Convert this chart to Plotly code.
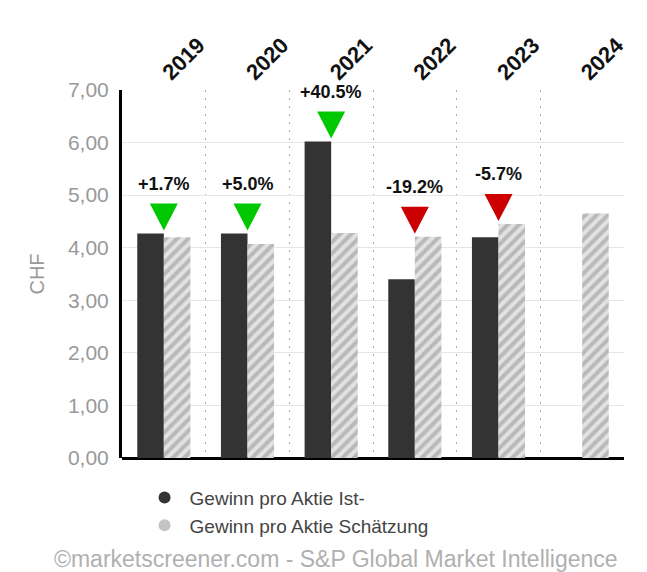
import plotly.graph_objects as go

years = ["2019", "2020", "2021", "2022", "2023", "2024"]
eps_actual = [4.27, 4.27, 6.02, 3.40, 4.20, None]
eps_estimate = [4.20, 4.07, 4.28, 4.21, 4.45, 4.65]
surprise_labels = ["+1.7%", "+5.0%", "+40.5%", "-19.2%", "-5.7%", None]
tick_values = [0, 1, 2, 3, 4, 5, 6, 7]
series_names = ["Gewinn pro Aktie Ist-", "Gewinn pro Aktie Schätzung"]
footer = "©marketscreener.com - S&P Global Market Intelligence"

FONT = "Liberation Sans, Arial, sans-serif"

fig = go.Figure()
fig.add_trace(go.Bar(x=years, y=eps_actual, name=series_names[0],
                     marker=dict(color="#333333", line=dict(width=0)),
                     showlegend=False))
fig.add_trace(go.Bar(x=years, y=eps_estimate, name=series_names[1],
                     marker=dict(color="#e0e0e0", line=dict(width=0),
                                 pattern=dict(shape="/", fgcolor="#8f8f8f",
                                              bgcolor="#e2e2e2", size=8, solidity=0.5)),
                     showlegend=False))
# legend entries (circle icons)
fig.add_trace(go.Scatter(x=[years[0]], y=[None], mode="markers", name=series_names[0],
                         marker=dict(symbol="circle", size=14, color="#333333")))
fig.add_trace(go.Scatter(x=[years[0]], y=[None], mode="markers", name=series_names[1],
                         marker=dict(symbol="circle", size=14, color="#c4c4c4")))

shapes = []
annotations = []
for i, (a, e, lab) in enumerate(zip(eps_actual, eps_estimate, surprise_labels)):
    if a is None or lab is None:
        continue
    top = max(a, e)
    col = "#00c800" if lab.startswith("+") else "#cc0000"
    shapes.append(dict(type="path", xref="x", yref="y", xsizemode="pixel", ysizemode="pixel",
                       xanchor=i, yanchor=top,
                       path="M-14,30 L14,30 L0,3 Z",
                       fillcolor=col, line=dict(width=0), layer="above"))
    annotations.append(dict(x=i, y=top, xref="x", yref="y", text="<b>%s</b>" % lab,
                            showarrow=False, yshift=50, yanchor="middle",
                            font=dict(family=FONT, size=18, color="#111111")))

annotations.append(dict(x=-0.139, y=-0.275, xref="paper", yref="paper", text=footer,
                        showarrow=False, xanchor="left", yanchor="middle",
                        font=dict(family=FONT, size=23, color="#b0b0b0")))

fig.update_layout(
    width=647, height=572,
    margin=dict(l=122, r=23, t=90, b=114, autoexpand=False),
    paper_bgcolor="white", plot_bgcolor="white",
    barmode="group", bargap=0.365, bargroupgap=0,
    separators=",.",
    font=dict(family=FONT),
    shapes=shapes, annotations=annotations,
    legend=dict(x=0.035, y=-0.056, xanchor="left", yanchor="top",
                font=dict(family=FONT, size=19, color="#444444"),
                itemsizing="constant", itemwidth=40, tracegroupgap=0),
    xaxis=dict(side="top", type="category", tickangle=-45, range=[-0.5, 5.5],
               autorange=False, automargin=False,
               tickfont=dict(family=FONT, size=22, color="#111111", weight="bold"),
               showgrid=True, gridcolor="#aaaaaa", griddash="2px,6px", gridwidth=1,
               tickson="boundaries", ticks="", showline=False, zeroline=False),
    yaxis=dict(range=[0, 7], tickvals=tick_values, tickformat=".2f", automargin=False,
               tickfont=dict(family=FONT, size=21, color="#999999"),
               ticklabelstandoff=6,
               showgrid=True, gridcolor="#e6e6e6", gridwidth=1,
               showline=True, linecolor="#000000", linewidth=3,
               zeroline=True, zerolinecolor="#000000", zerolinewidth=3,
               ticks="", title=dict(text="CHF", standoff=18,
                                    font=dict(family=FONT, size=20, color="#999999"))),
)

fig.write_html("out.html", config={"displayModeBar": False},
               post_script="document.body.style.margin='0';")
